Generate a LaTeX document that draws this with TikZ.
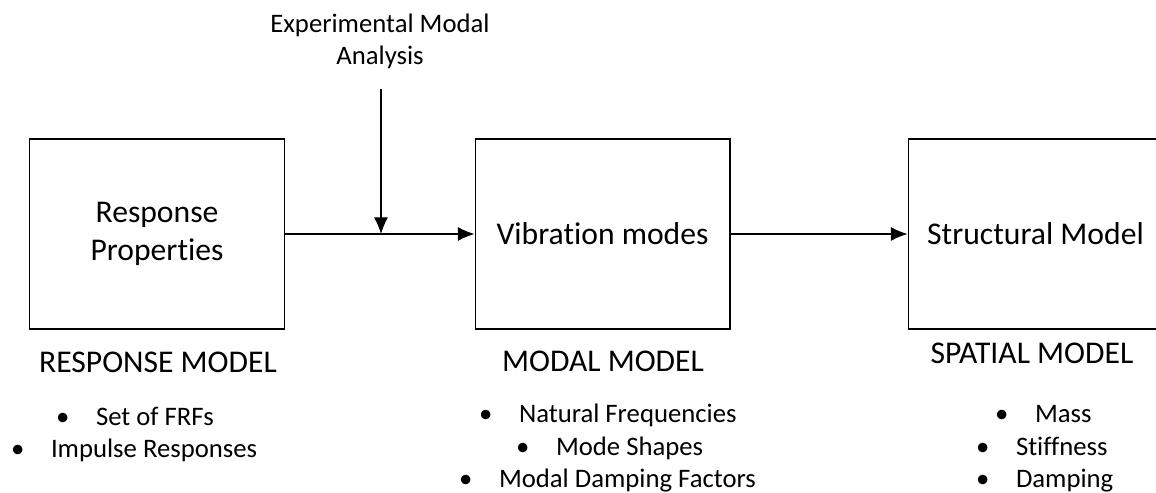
\documentclass[tikz,border=0pt]{standalone}
\usepackage{fontspec}
\setmainfont{Carlito}[Ligatures=NoCommon]
\usepackage{tikz}
\usetikzlibrary{arrows.meta, positioning}

\newcommand{\itm}[1]{\makebox[0.8cm][l]{\textbullet}#1}

\begin{document}
\begin{tikzpicture}[>={Latex[length=9.5pt, width=8pt]}, x=0.02cm, y=-0.02cm, line width=0.6pt,
    modelbox/.style={draw, minimum width=5.1cm, minimum height=3.8cm, align=center,
        font=\fontsize{18}{21.6}\selectfont},
    modeltitle/.style={anchor=base, inner sep=0pt, font=\fontsize{18}{21}\selectfont},
    listitem/.style={anchor=base west, inner sep=0pt, font=\fontsize{15.2}{18}\selectfont}]
    \useasboundingbox (0,0) rectangle (1156,493);
    \clip (0,0) rectangle (1156,493);

    % 1. Ba khối mô hình
    \node[modelbox] (resp) at (157,234) {Response\\Properties};
    \node[modelbox] (modal) at (602.5,234) {Vibration modes};
    \node[modelbox] (spat) at (1035.5,234) {Structural Model};

    % 2. Mũi tên nối các khối
    \draw[->] (resp) -- (modal);
    \draw[->] (modal) -- (spat);

    % 3. Phân tích mode thực nghiệm
    \node[align=center, font=\fontsize{15.2}{18.2}\selectfont] (ema) at (380,41)
        {Experimental Modal\\Analysis};
    \coordinate (emaTop) at (381,89);
    \draw[->] (emaTop) -- (emaTop |- resp.east);

    % 4. Tên các mô hình
    \node[modeltitle] (respName) at (158,372) {RESPONSE MODEL};
    \node[modeltitle] (modalName) at (603,371) {MODAL MODEL};
    \node[modeltitle] (spatName) at (1032,363) {SPATIAL MODEL};

    % 5. Danh sách đặc trưng
    \node[listitem] (frf) at (55.5,425) {\itm{Set of FRFs}};
    \node[listitem] (irf) at (10.5,457) {\itm{Impulse Responses}};

    \node[listitem] (freq) at (478.5,422) {\itm{Natural Frequencies}};
    \node[listitem] (shape) at (515.5,455) {\itm{Mode Shapes}};
    \node[listitem] (damp) at (458.5,487) {\itm{Modal Damping Factors}};

    \node[listitem] (mass) at (994.5,422) {\itm{Mass}};
    \node[listitem] (stiff) at (975.5,455) {\itm{Stiffness}};
    \node[listitem] (dmp) at (975.5,487) {\itm{Damping}};
\end{tikzpicture}
\end{document}
